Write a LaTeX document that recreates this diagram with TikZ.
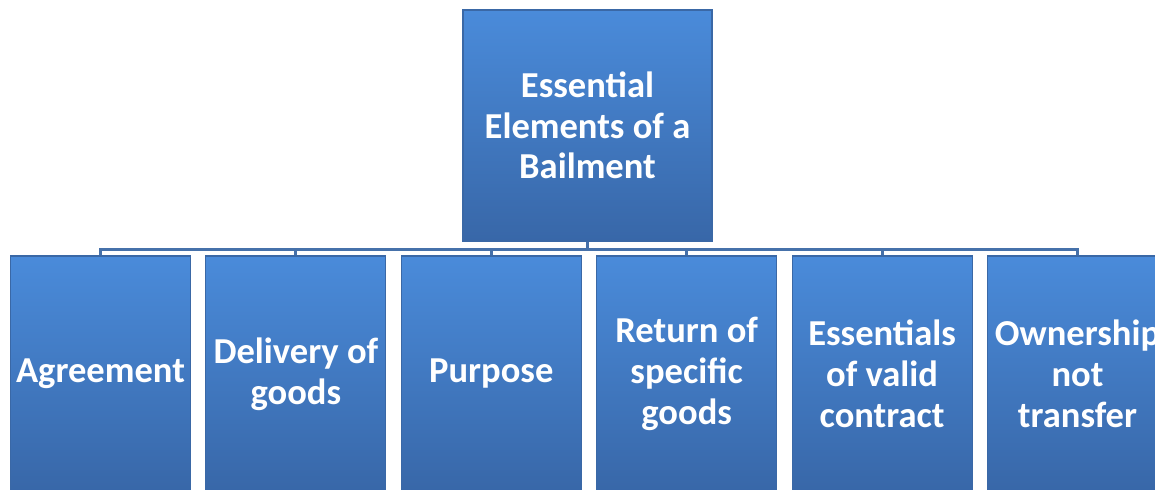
\documentclass[tikz,border=0pt]{standalone}
\usepackage{fontspec}
\setmainfont{Carlito}
\usetikzlibrary{positioning}

\definecolor{boxtop}{HTML}{4A8BDA}
\definecolor{boxbot}{HTML}{3867A8}
\definecolor{boxedge}{HTML}{3A68A6}
\definecolor{busline}{HTML}{4671AA}

\tikzset{
  element/.style={rectangle, top color=boxtop, bottom color=boxbot,
    draw=boxedge, line width=0.8pt, text=white, align=center, inner sep=0pt,
    font=\bfseries\fontsize{26}{29}\selectfont},
  root/.style={element, minimum width=6.225cm, minimum height=5.775cm},
  leaf/.style={element, minimum width=4.5cm, minimum height=5.9cm},
  link/.style={draw=busline, line width=2.2pt}
}

\begin{document}
\begin{tikzpicture}[node distance=4.885cm]
  \clip (0,0) rectangle (28.875,-12.25);
  \fill[white] (0,0) rectangle (28.875,-12.25);

  \node[root] (top) at (14.6875,-3.1375) {Essential\\Elements of a\\Bailment};

  \node[leaf] (a1) at (2.5125,-9.35) {Agreement};
  \node[leaf] (a2) [right of=a1] {Delivery of\\goods};
  \node[leaf] (a3) [right of=a2] {Purpose};
  \node[leaf] (a4) [right of=a3] {Return of\\specific\\goods};
  \node[leaf] (a5) [right of=a4] {Essentials\\of valid\\contract};
  \node[leaf] (a6) [right of=a5] {Ownership\\not\\transfer};

  \coordinate (bus) at (14.6875,-6.2375);

  \path[link] (top.south) -- (top.south |- bus) -| (a1.north);
  \path[link] (top.south) -- (top.south |- bus) -| (a2.north);
  \path[link] (top.south) -- (top.south |- bus) -| (a3.north);
  \path[link] (top.south) -- (top.south |- bus) -| (a4.north);
  \path[link] (top.south) -- (top.south |- bus) -| (a5.north);
  \path[link] (top.south) -- (top.south |- bus) -| (a6.north);
\end{tikzpicture}
\end{document}
